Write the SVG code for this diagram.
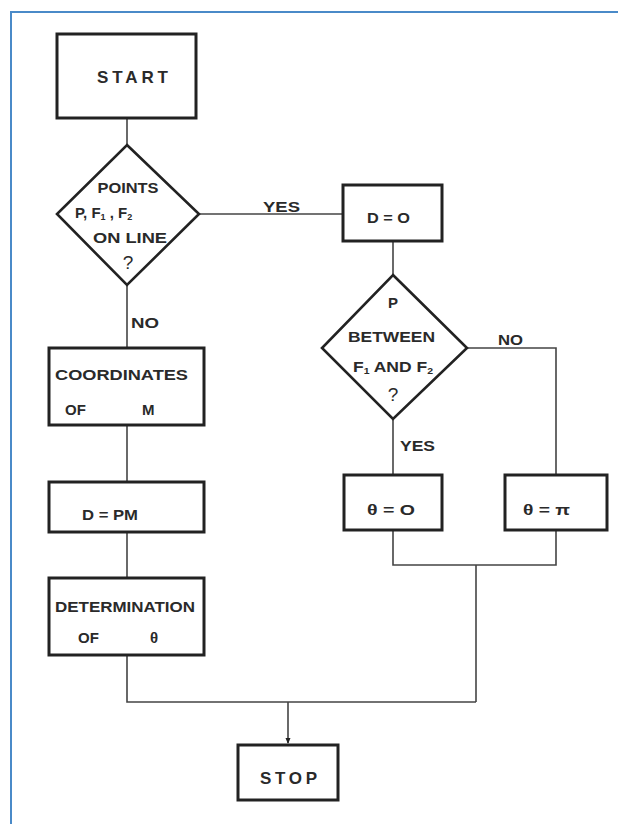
<svg xmlns="http://www.w3.org/2000/svg" width="618" height="824" viewBox="0 0 618 824">
<style>
.box{fill:#fff;stroke:#222;stroke-width:3}
.dia{fill:#fff;stroke:#222;stroke-width:2.6}
.c{fill:none;stroke:#444;stroke-width:1.6}
text{font-family:"Liberation Sans",Arial,sans-serif;font-weight:bold;font-size:15px;fill:#2a2a2a}
.m{text-anchor:middle}
.sub{font-size:9px}
.q{font-size:19px;font-weight:normal}
.big{font-size:17px}
</style>
<defs>
<marker id="arr" viewBox="0 0 6 6" refX="5" refY="3" markerWidth="6" markerHeight="6" orient="auto" markerUnits="userSpaceOnUse">
<path d="M0,0.5 L6,3 L0,5.5 z" fill="#222"/>
</marker>
</defs>
<rect width="618" height="824" fill="#fff"/>
<path d="M11,824 V12 H618" fill="none" stroke="#4a8ac8" stroke-width="2"/>
<g id="connectors">
<path class="c" d="M127,118 V145"/>
<path class="c" d="M199,214 H343"/>
<path class="c" d="M393,241 V275"/>
<path class="c" d="M127,285 V348"/>
<path class="c" d="M127,425 V482"/>
<path class="c" d="M127,532 V578"/>
<path class="c" d="M127,655 V702 H476"/>
<path class="c" d="M393,419 V475"/>
<path class="c" d="M467,348 H556 V475"/>
<path class="c" d="M393,530 V565 H556 V530"/>
<path class="c" d="M476,565 V702"/>
<path class="c" d="M288,702 V743" marker-end="url(#arr)"/>
<text x="263" y="212" textLength="37" lengthAdjust="spacingAndGlyphs">YES</text>
<text x="131" y="328" textLength="28" lengthAdjust="spacingAndGlyphs">NO</text>
<text x="498" y="345" textLength="25" lengthAdjust="spacingAndGlyphs">NO</text>
<text x="400" y="451" textLength="35" lengthAdjust="spacingAndGlyphs">YES</text>
</g>
<g id="start">
<rect class="box" x="57" y="34" width="139" height="84"/>
<text class="big" x="97" y="83" textLength="71" lengthAdjust="spacing">START</text>
</g>
<g id="points-on-line">
<polygon class="dia" points="127,145 199,214 127,285 57,214"/>
<text class="m" x="128" y="193" textLength="61" lengthAdjust="spacingAndGlyphs">POINTS</text>
<text x="75" y="218">P, F<tspan class="sub" dy="2">1</tspan><tspan dy="-2"> , F</tspan><tspan class="sub" dy="2">2</tspan></text>
<text x="93" y="243" textLength="74" lengthAdjust="spacingAndGlyphs">ON LINE</text>
<text class="m q" x="128" y="269">?</text>
</g>
<g id="d-zero">
<rect class="box" x="343" y="185" width="99" height="56"/>
<text x="367" y="223" textLength="43" lengthAdjust="spacingAndGlyphs">D = O</text>
</g>
<g id="p-between">
<polygon class="dia" points="393,275 467,348 393,419 322,348"/>
<text class="m" x="393" y="308">P</text>
<text x="348" y="342" textLength="87" lengthAdjust="spacingAndGlyphs">BETWEEN</text>
<text x="353" y="372" textLength="80" lengthAdjust="spacingAndGlyphs">F<tspan class="sub" dy="2">1</tspan><tspan dy="-2"> AND F</tspan><tspan class="sub" dy="2">2</tspan></text>
<text class="m q" x="393" y="401">?</text>
</g>
<g id="coordinates">
<rect class="box" x="49" y="348" width="155" height="77"/>
<text x="55" y="380" textLength="133" lengthAdjust="spacingAndGlyphs">COORDINATES</text>
<text x="65" y="415">OF</text>
<text x="142" y="415">M</text>
</g>
<g id="d-pm">
<rect class="box" x="49" y="482" width="155" height="50"/>
<text x="82" y="520" textLength="56" lengthAdjust="spacingAndGlyphs">D = PM</text>
</g>
<g id="determination">
<rect class="box" x="49" y="578" width="155" height="77"/>
<text x="55" y="612" textLength="140" lengthAdjust="spacingAndGlyphs">DETERMINATION</text>
<text x="78" y="643">OF</text>
<text x="150" y="643">θ</text>
</g>
<g id="theta-zero">
<rect class="box" x="344" y="475" width="98" height="55"/>
<text x="367" y="515" textLength="48" lengthAdjust="spacingAndGlyphs">θ = O</text>
</g>
<g id="theta-pi">
<rect class="box" x="505" y="475" width="102" height="55"/>
<text x="523" y="515" textLength="47" lengthAdjust="spacingAndGlyphs">θ = π</text>
</g>
<g id="stop">
<rect class="box" x="238" y="745" width="100" height="55"/>
<text class="big" x="260" y="784" textLength="57" lengthAdjust="spacing">STOP</text>
</g>
</svg>
